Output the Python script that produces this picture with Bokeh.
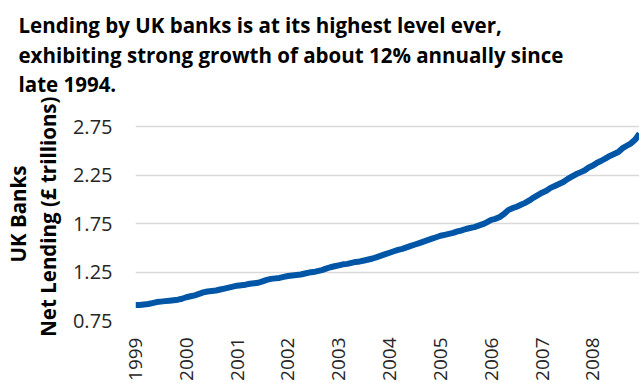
import math
from bokeh.plotting import figure
from bokeh.models import Range1d, FixedTicker, NumeralTickFormatter, Title
from bokeh.embed import file_html
from bokeh.resources import INLINE

title_text = ("Lending by UK banks is at its highest level ever,\n"
              "exhibiting strong growth of about 12% annually since\n"
              "late 1994.")
y_label = "UK Banks\nNet Lending  (\u00a3 trillions)"

year_ticks = [1999, 2000, 2001, 2002, 2003, 2004, 2005, 2006, 2007, 2008]
y_ticks = [0.75, 1.25, 1.75, 2.25, 2.75]

# monthly net lending (GBP trillions), Jan to Dec of each year
lending_1999 = [0.91, 0.91, 0.915, 0.92, 0.93, 0.94, 0.945, 0.95, 0.955, 0.96, 0.965, 0.975]
lending_2000 = [0.99, 1.0, 1.01, 1.025, 1.04, 1.05, 1.055, 1.06, 1.07, 1.08, 1.09, 1.10]
lending_2001 = [1.11, 1.115, 1.12, 1.13, 1.135, 1.14, 1.155, 1.17, 1.18, 1.185, 1.19, 1.20]
lending_2002 = [1.21, 1.215, 1.22, 1.225, 1.235, 1.245, 1.25, 1.26, 1.27, 1.285, 1.30, 1.31]
lending_2003 = [1.32, 1.33, 1.335, 1.345, 1.355, 1.36, 1.37, 1.38, 1.39, 1.405, 1.42, 1.435]
lending_2004 = [1.45, 1.465, 1.48, 1.49, 1.505, 1.52, 1.535, 1.55, 1.565, 1.58, 1.595, 1.61]
lending_2005 = [1.625, 1.635, 1.645, 1.655, 1.67, 1.68, 1.695, 1.705, 1.715, 1.73, 1.745, 1.765]
lending_2006 = [1.79, 1.80, 1.82, 1.85, 1.89, 1.91, 1.925, 1.945, 1.965, 1.99, 2.02, 2.045]
lending_2007 = [2.07, 2.09, 2.12, 2.14, 2.16, 2.18, 2.21, 2.235, 2.26, 2.28, 2.30, 2.33]
lending_2008 = [2.35, 2.38, 2.40, 2.425, 2.45, 2.47, 2.49, 2.53, 2.555, 2.58, 2.62, 2.68]

yearly = [lending_1999, lending_2000, lending_2001, lending_2002, lending_2003,
          lending_2004, lending_2005, lending_2006, lending_2007, lending_2008]
months = []
lending = []
for yr, vals in zip(year_ticks, yearly):
    for m, v in enumerate(vals):
        months.append(yr + m / 12.0)
        lending.append(v)

p = figure(width=639, height=383, output_backend="svg", toolbar_location=None,
           x_range=Range1d(months[0], months[-1]), y_range=Range1d(0.75, 2.95),
           min_border_left=135, min_border_right=0, min_border_top=106, min_border_bottom=60)
p.outline_line_color = None
p.background_fill_color = "white"
p.border_fill_color = "white"

p.line(months, lending, line_color="#0056A6", line_width=6, line_join="round")

p.title = Title(text=title_text, align="left", offset=-117, standoff=18,
                text_font="Open Sans", text_font_style="bold",
                text_font_size="20.5px", text_line_height=1.06, text_color="black")

p.xgrid.visible = False
p.ygrid.grid_line_color = "#D9D9D9"
p.ygrid.grid_line_width = 1.3

p.xaxis.ticker = FixedTicker(ticks=year_ticks)
p.xaxis.major_label_orientation = math.pi / 2
p.xaxis.major_label_standoff = 11
p.yaxis.ticker = FixedTicker(ticks=y_ticks)
p.yaxis.formatter = NumeralTickFormatter(format="0.00")
p.yaxis.major_label_standoff = 17

for ax in (p.xaxis, p.yaxis):
    ax.axis_line_color = None
    ax.major_tick_line_color = None
    ax.minor_tick_line_color = None
    ax.major_label_text_font = "Open Sans"
    ax.major_label_text_color = "#262626"
p.yaxis.major_label_text_font_size = "20px"
p.xaxis.major_label_text_font_size = "19px"

p.yaxis.axis_label = y_label
p.yaxis.axis_label_text_font = "Open Sans"
p.yaxis.axis_label_text_font_style = "bold"
p.yaxis.axis_label_text_font_size = "20.5px"
p.yaxis.axis_label_text_line_height = 1.08
p.yaxis.axis_label_text_color = "black"
p.yaxis.axis_label_standoff = 8

open("out.html", "w").write(file_html(p, INLINE))
